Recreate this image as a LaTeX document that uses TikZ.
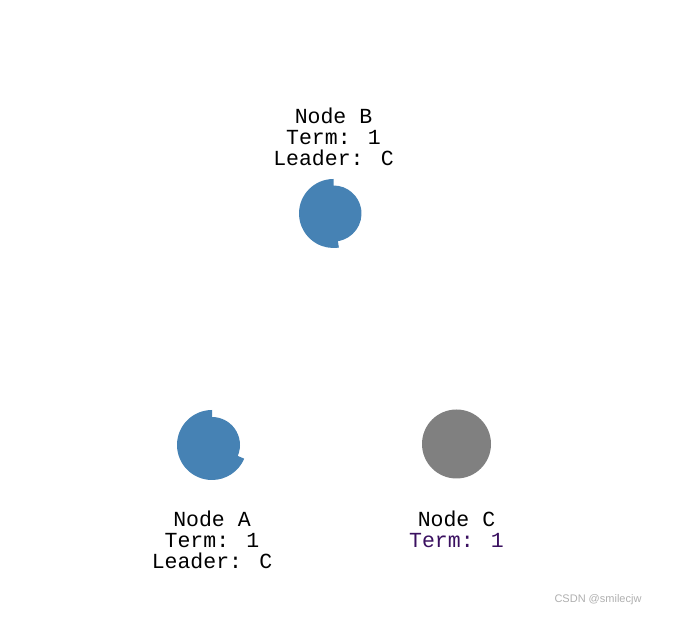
\documentclass[tikz,border=0pt]{standalone}
\usepackage{fontspec}
\newfontfamily\labelfont{Liberation Mono}
\newfontfamily\markfont{Liberation Sans}
\definecolor{steelblue}{RGB}{70,130,180}
\definecolor{nodegray}{RGB}{128,128,128}
\definecolor{termpurple}{RGB}{58,16,96}
\definecolor{markgray}{RGB}{175,175,175}

\begin{document}
\begin{tikzpicture}[x=1bp,y=1bp,
        nodelabel/.style={inner sep=0pt, align=center, text=black,
            font=\labelfont\fontsize{21.5bp}{21bp}\selectfont}]
        \useasboundingbox (0,0) rectangle (673,617);

        % Centres of the three nodes
        \coordinate (nodeA) at (212,172);
        \coordinate (nodeB) at (333.5,403.5);
        \coordinate (nodeC) at (456.5,173);

        % Node B: two slices of different radius
        \fill[steelblue, shift={(nodeB)}] (90:34.5) arc[start angle=90, end angle=279, radius=34.5]
            -- (-81:28) arc[start angle=-81, end angle=90, radius=28] -- cycle;

        % Node A: two slices of different radius
        \fill[steelblue, shift={(nodeA)}] (90:35) arc[start angle=90, end angle=337, radius=35]
            -- (-23:28) arc[start angle=-23, end angle=90, radius=28] -- cycle;

        % Node C: full circle
        \fill[nodegray] (nodeC) circle[radius=34.5];

        % Labels
        \node[nodelabel] (labelB) at (333.5,480) {Node B\\Term: 1\\Leader: C};
        \node[nodelabel] (labelA) at (212,77) {Node A\\Term: 1\\Leader: C};
        \node[nodelabel] (labelC) at (456.5,87.5) {Node C\\\textcolor{termpurple}{Term: 1}};

        % Watermark
        \node[inner sep=0pt, text=markgray, font=\markfont\fontsize{11bp}{13bp}\selectfont]
            (mark) at (598,17) {CSDN @smilecjw};
    \end{tikzpicture}
\end{document}
